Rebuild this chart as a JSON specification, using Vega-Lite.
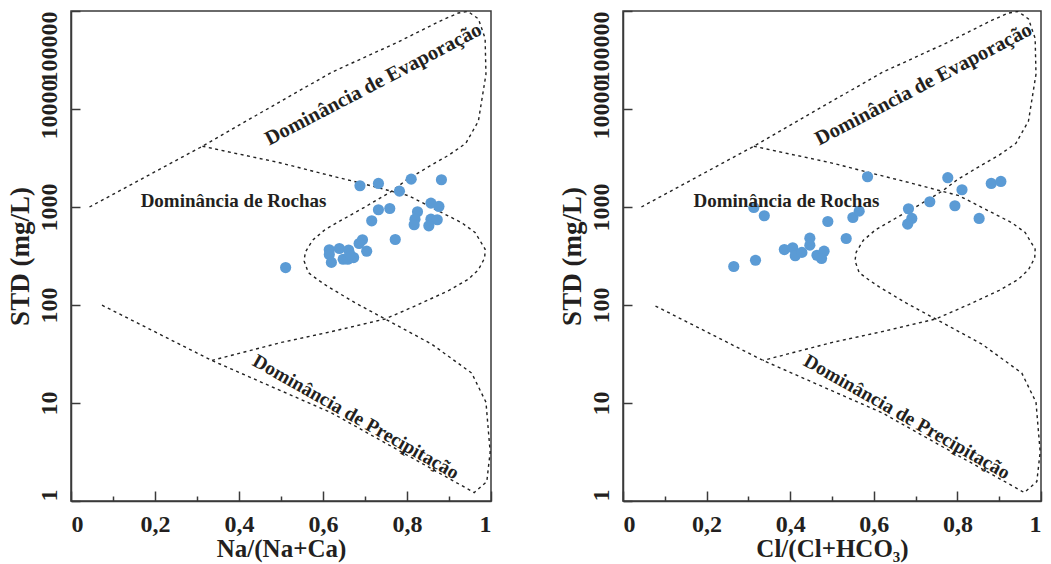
{
  "$schema": "https://vega.github.io/schema/vega-lite/v6.json",
  "background": "white",
  "padding": {"left": 5, "top": 9, "right": 2, "bottom": 2},
  "spacing": 64,
  "config": {
    "font": "Liberation Serif",
    "view": {"stroke": "#3a3a3a", "strokeWidth": 1.5},
    "axis": {
      "labelFont": "Liberation Serif", "labelFontWeight": "bold", "labelFontSize": 24, "labelColor": "#231f20",
      "titleFont": "Liberation Serif", "titleFontWeight": "bold", "titleFontSize": 25, "titleColor": "#231f20",
      "domainColor": "#3a3a3a", "domainWidth": 1.5, "tickColor": "#3a3a3a", "tickWidth": 1.5,
      "grid": false, "labelOverlap": false
    }
  },
  "datasets": {
    "curveA": [
      {"i": 1, "x": 0.044, "y": 1000}, {"i": 2, "x": 0.313, "y": 4169}, {"i": 3, "x": 0.462, "y": 9705},
      {"i": 4, "x": 0.62, "y": 23600}, {"i": 5, "x": 0.779, "y": 48300}, {"i": 6, "x": 0.88, "y": 79400},
      {"i": 7, "x": 0.922, "y": 95300}, {"i": 8, "x": 0.945, "y": 98900}, {"i": 9, "x": 0.97, "y": 83200},
      {"i": 10, "x": 0.986, "y": 52500}, {"i": 11, "x": 0.988, "y": 22600}, {"i": 12, "x": 0.97, "y": 7530},
      {"i": 13, "x": 0.94, "y": 4467}, {"i": 14, "x": 0.9, "y": 3388}, {"i": 15, "x": 0.859, "y": 2692},
      {"i": 16, "x": 0.8, "y": 1905}, {"i": 17, "x": 0.763, "y": 1445}, {"i": 18, "x": 0.7, "y": 1000},
      {"i": 19, "x": 0.65, "y": 759}, {"i": 20, "x": 0.605, "y": 589}, {"i": 21, "x": 0.575, "y": 457},
      {"i": 22, "x": 0.558, "y": 347}, {"i": 23, "x": 0.555, "y": 282}, {"i": 24, "x": 0.565, "y": 214},
      {"i": 25, "x": 0.59, "y": 178}, {"i": 26, "x": 0.613, "y": 153}, {"i": 27, "x": 0.677, "y": 105},
      {"i": 28, "x": 0.748, "y": 72}, {"i": 29, "x": 0.859, "y": 39.8}, {"i": 30, "x": 0.954, "y": 20.2},
      {"i": 31, "x": 0.988, "y": 10.2}, {"i": 32, "x": 0.998, "y": 3.16}, {"i": 33, "x": 0.99, "y": 1.58},
      {"i": 34, "x": 0.96, "y": 1.22}, {"i": 35, "x": 0.819, "y": 2.65}, {"i": 36, "x": 0.62, "y": 7.94},
      {"i": 37, "x": 0.462, "y": 15.7}, {"i": 38, "x": 0.335, "y": 27.2}, {"i": 39, "x": 0.073, "y": 100}
    ],
    "curveB": [
      {"i": 1, "x": 0.313, "y": 4169}, {"i": 2, "x": 0.4, "y": 3467}, {"i": 3, "x": 0.494, "y": 2851},
      {"i": 4, "x": 0.59, "y": 2239}, {"i": 5, "x": 0.684, "y": 1778}, {"i": 6, "x": 0.804, "y": 1303},
      {"i": 7, "x": 0.882, "y": 879}, {"i": 8, "x": 0.93, "y": 692}, {"i": 9, "x": 0.962, "y": 550},
      {"i": 10, "x": 0.986, "y": 372}, {"i": 11, "x": 0.985, "y": 302}, {"i": 12, "x": 0.97, "y": 229},
      {"i": 13, "x": 0.946, "y": 183}, {"i": 14, "x": 0.9, "y": 141}, {"i": 15, "x": 0.827, "y": 101},
      {"i": 16, "x": 0.748, "y": 72}, {"i": 17, "x": 0.62, "y": 53.5}, {"i": 18, "x": 0.501, "y": 41.5},
      {"i": 19, "x": 0.335, "y": 27.2}
    ],
    "na": [
      {"x": 0.688, "y": 1648}, {"x": 0.732, "y": 1740}, {"x": 0.81, "y": 1925}, {"x": 0.882, "y": 1898},
      {"x": 0.782, "y": 1452}, {"x": 0.857, "y": 1095}, {"x": 0.876, "y": 1013}, {"x": 0.732, "y": 937},
      {"x": 0.759, "y": 966}, {"x": 0.825, "y": 894}, {"x": 0.819, "y": 751}, {"x": 0.817, "y": 659},
      {"x": 0.857, "y": 751}, {"x": 0.872, "y": 741}, {"x": 0.852, "y": 643}, {"x": 0.716, "y": 723},
      {"x": 0.772, "y": 466}, {"x": 0.694, "y": 463}, {"x": 0.686, "y": 424}, {"x": 0.704, "y": 354},
      {"x": 0.615, "y": 366}, {"x": 0.639, "y": 377}, {"x": 0.615, "y": 327}, {"x": 0.62, "y": 272},
      {"x": 0.661, "y": 364}, {"x": 0.648, "y": 293}, {"x": 0.673, "y": 305}, {"x": 0.659, "y": 293},
      {"x": 0.664, "y": 330}, {"x": 0.511, "y": 241}
    ],
    "cl": [
      {"x": 0.585, "y": 2037}, {"x": 0.313, "y": 989}, {"x": 0.338, "y": 814}, {"x": 0.49, "y": 711},
      {"x": 0.55, "y": 782}, {"x": 0.565, "y": 907}, {"x": 0.534, "y": 477}, {"x": 0.447, "y": 481},
      {"x": 0.447, "y": 408}, {"x": 0.386, "y": 368}, {"x": 0.406, "y": 384}, {"x": 0.412, "y": 318},
      {"x": 0.428, "y": 344}, {"x": 0.464, "y": 322}, {"x": 0.481, "y": 354}, {"x": 0.475, "y": 298},
      {"x": 0.265, "y": 247}, {"x": 0.317, "y": 286}, {"x": 0.777, "y": 1990}, {"x": 0.811, "y": 1500},
      {"x": 0.881, "y": 1739}, {"x": 0.904, "y": 1823}, {"x": 0.734, "y": 1132}, {"x": 0.794, "y": 1030},
      {"x": 0.683, "y": 960}, {"x": 0.691, "y": 764}, {"x": 0.681, "y": 668}, {"x": 0.852, "y": 764}
    ],
    "labNa": [
      {"k": "evap", "t": "Dominância de Evaporação", "x": 0.72, "y": 17800},
      {"k": "rock", "t": "Dominância de Rochas", "x": 0.387, "y": 1140},
      {"k": "prec", "t": "Dominância de Precipitação", "x": 0.678, "y": 7.2}
    ],
    "labCl": [
      {"k": "evap", "t": "Dominância de Evaporação", "x": 0.719, "y": 17800},
      {"k": "rock", "t": "Dominância de Rochas", "x": 0.391, "y": 1140},
      {"k": "prec", "t": "Dominância de Precipitação", "x": 0.679, "y": 7.2}
    ]
  },
  "hconcat": [
    {
      "width": 420, "height": 490,
      "layer": [
        {
          "data": {"name": "curveA"},
          "mark": {"type": "line", "stroke": "#222222", "strokeWidth": 1.4, "strokeDash": [3, 3.5], "clip": true},
          "encoding": {
            "x": {"field": "x", "type": "quantitative", "scale": {"domain": [0, 1], "nice": false},
              "axis": {"title": "Na/(Na+Ca)", "values": [0, 0.1, 0.2, 0.3, 0.4, 0.5, 0.6, 0.7, 0.8, 0.9, 1],
                "labelExpr": "round(datum.value*10) % 2 == 1 ? '' : replace(format(datum.value, '~g'), '.', ',')",
                "tickSize": {"condition": {"test": "round(datum.value*10) % 2 == 1", "value": -5}, "value": -10},
                "labelPadding": 21, "titlePadding": -5}},
            "y": {"field": "y", "type": "quantitative", "scale": {"type": "log", "domain": [1, 100000], "nice": false},
              "axis": {"title": "STD (mg/L)", "titleFontSize": 27, "values": [1, 10, 100, 1000, 10000, 100000], "format": "d",
                "labelAngle": -90, "labelBaseline": "bottom",
                "labelAlign": {"condition": [{"test": "datum.value < 2", "value": "left"}, {"test": "datum.value > 50000", "value": "right"}], "value": "center"},
                "tickSize": -9, "labelPadding": 19, "titlePadding": 3}},
            "order": {"field": "i", "type": "quantitative"}
          }
        },
        {
          "data": {"name": "curveB"},
          "mark": {"type": "line", "stroke": "#222222", "strokeWidth": 1.4, "strokeDash": [3, 3.5], "clip": true},
          "encoding": {
            "x": {"field": "x", "type": "quantitative"},
            "y": {"field": "y", "type": "quantitative"},
            "order": {"field": "i", "type": "quantitative"}
          }
        },
        {
          "data": {"name": "na"},
          "mark": {"type": "circle", "color": "#5b9bd5", "opacity": 1, "size": 125},
          "encoding": {
            "x": {"field": "x", "type": "quantitative"},
            "y": {"field": "y", "type": "quantitative"}
          }
        },
        {
          "data": {"name": "labNa"},
          "transform": [{"filter": "datum.k == 'evap'"}],
          "mark": {"type": "text", "font": "Liberation Serif", "fontWeight": "bold", "fontSize": 20.5, "color": "#231f20", "angle": -27.6},
          "encoding": {"x": {"field": "x", "type": "quantitative"}, "y": {"field": "y", "type": "quantitative"}, "text": {"field": "t"}}
        },
        {
          "data": {"name": "labNa"},
          "transform": [{"filter": "datum.k == 'rock'"}],
          "mark": {"type": "text", "font": "Liberation Serif", "fontWeight": "bold", "fontSize": 19, "color": "#231f20"},
          "encoding": {"x": {"field": "x", "type": "quantitative"}, "y": {"field": "y", "type": "quantitative"}, "text": {"field": "t"}}
        },
        {
          "data": {"name": "labNa"},
          "transform": [{"filter": "datum.k == 'prec'"}],
          "mark": {"type": "text", "font": "Liberation Serif", "fontWeight": "bold", "fontSize": 19.5, "color": "#231f20", "angle": 29.5},
          "encoding": {"x": {"field": "x", "type": "quantitative"}, "y": {"field": "y", "type": "quantitative"}, "text": {"field": "t"}}
        }
      ]
    },
    {
      "width": 418, "height": 490,
      "layer": [
        {
          "data": {"name": "curveA"},
          "mark": {"type": "line", "stroke": "#222222", "strokeWidth": 1.4, "strokeDash": [3, 3.5], "clip": true},
          "encoding": {
            "x": {"field": "x", "type": "quantitative", "scale": {"domain": [0, 1], "nice": false},
              "axis": {"title": "Cl/(Cl+HCO₃)", "values": [0, 0.1, 0.2, 0.3, 0.4, 0.5, 0.6, 0.7, 0.8, 0.9, 1],
                "labelExpr": "round(datum.value*10) % 2 == 1 ? '' : replace(format(datum.value, '~g'), '.', ',')",
                "tickSize": {"condition": {"test": "round(datum.value*10) % 2 == 1", "value": -5}, "value": -10},
                "labelPadding": 21, "titlePadding": -5}},
            "y": {"field": "y", "type": "quantitative", "scale": {"type": "log", "domain": [1, 100000], "nice": false},
              "axis": {"title": "STD (mg/L)", "titleFontSize": 27, "values": [1, 10, 100, 1000, 10000, 100000], "format": "d",
                "labelAngle": -90, "labelBaseline": "bottom",
                "labelAlign": {"condition": [{"test": "datum.value < 2", "value": "left"}, {"test": "datum.value > 50000", "value": "right"}], "value": "center"},
                "tickSize": -9, "labelPadding": 19, "titlePadding": 3}},
            "order": {"field": "i", "type": "quantitative"}
          }
        },
        {
          "data": {"name": "curveB"},
          "mark": {"type": "line", "stroke": "#222222", "strokeWidth": 1.4, "strokeDash": [3, 3.5], "clip": true},
          "encoding": {
            "x": {"field": "x", "type": "quantitative"},
            "y": {"field": "y", "type": "quantitative"},
            "order": {"field": "i", "type": "quantitative"}
          }
        },
        {
          "data": {"name": "cl"},
          "mark": {"type": "circle", "color": "#5b9bd5", "opacity": 1, "size": 125},
          "encoding": {
            "x": {"field": "x", "type": "quantitative"},
            "y": {"field": "y", "type": "quantitative"}
          }
        },
        {
          "data": {"name": "labCl"},
          "transform": [{"filter": "datum.k == 'evap'"}],
          "mark": {"type": "text", "font": "Liberation Serif", "fontWeight": "bold", "fontSize": 20.5, "color": "#231f20", "angle": -27.6},
          "encoding": {"x": {"field": "x", "type": "quantitative"}, "y": {"field": "y", "type": "quantitative"}, "text": {"field": "t"}}
        },
        {
          "data": {"name": "labCl"},
          "transform": [{"filter": "datum.k == 'rock'"}],
          "mark": {"type": "text", "font": "Liberation Serif", "fontWeight": "bold", "fontSize": 19, "color": "#231f20"},
          "encoding": {"x": {"field": "x", "type": "quantitative"}, "y": {"field": "y", "type": "quantitative"}, "text": {"field": "t"}}
        },
        {
          "data": {"name": "labCl"},
          "transform": [{"filter": "datum.k == 'prec'"}],
          "mark": {"type": "text", "font": "Liberation Serif", "fontWeight": "bold", "fontSize": 19.5, "color": "#231f20", "angle": 29.5},
          "encoding": {"x": {"field": "x", "type": "quantitative"}, "y": {"field": "y", "type": "quantitative"}, "text": {"field": "t"}}
        }
      ]
    }
  ]
}
